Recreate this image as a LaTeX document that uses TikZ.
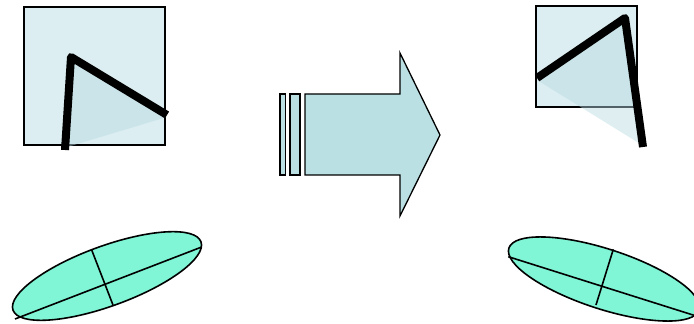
\documentclass[tikz,border=0pt]{standalone}
\usepackage{tikz}
\usetikzlibrary{calc}
\definecolor{paneblue}{RGB}{220,238,241}
\definecolor{wedgeblue}{RGB}{181,217,224}
\definecolor{arrowblue}{RGB}{187,224,227}
\definecolor{blobgreen}{RGB}{128,246,214}

\begin{document}
\begin{tikzpicture}[x=1pt, y=1pt,
    panel/.style={draw, fill=paneblue, line width=1.3pt},
    wedge/.style={fill=wedgeblue, fill opacity=0.45},
    stroke/.style={line width=8pt, line join=round},
    shaft/.style={draw, fill=arrowblue, line width=1.3pt},
    blob/.style={draw, fill=blobgreen, line width=1.6pt},
    chord/.style={line width=1.6pt}
]
    \useasboundingbox (0,0) rectangle (694,324);
    \clip (0,0) rectangle (694,324);

    % Before: square with the bent bar
    \draw[panel] (24,179) rectangle (165,317);
    \fill[wedge] (64,176) -- (71,267) -- (167,207) -- cycle;
    \draw[stroke] (65,174) -- (71,267) -- (167,209);

    % After: square with the turned bar
    \draw[panel] (536,217) rectangle (637,318);
    \fill[wedge] (537,244) -- (624,304) -- (642,179) -- cycle;
    \draw[stroke] (537,246) -- (625,306) -- (643,177);

    % Block arrow with two strips
    \draw[shaft] (280,149) rectangle (285.5,230);
    \draw[shaft] (290,149) rectangle (300,230);
    \draw[shaft] (305,149) -- (305,230) -- (400,230) -- (400,271)
        -- (440,189) -- (400,108) -- (400,149) -- cycle;

    % Ellipses with their axes
    \draw[blob, rotate around={20:(107,48)}] (107,48) ellipse (100 and 30);
    \draw[chord] (15,5) -- (201.7,77);
    \draw[chord] (91.7,74) -- (113,19);

    \draw[blob, rotate around={-18:(604,45)}] (604,45) ellipse (100 and 30);
    \draw[chord] (508.3,67.3) -- (700,6.8);
    \draw[chord] (613.3,74.7) -- (596,19);
\end{tikzpicture}
\end{document}
